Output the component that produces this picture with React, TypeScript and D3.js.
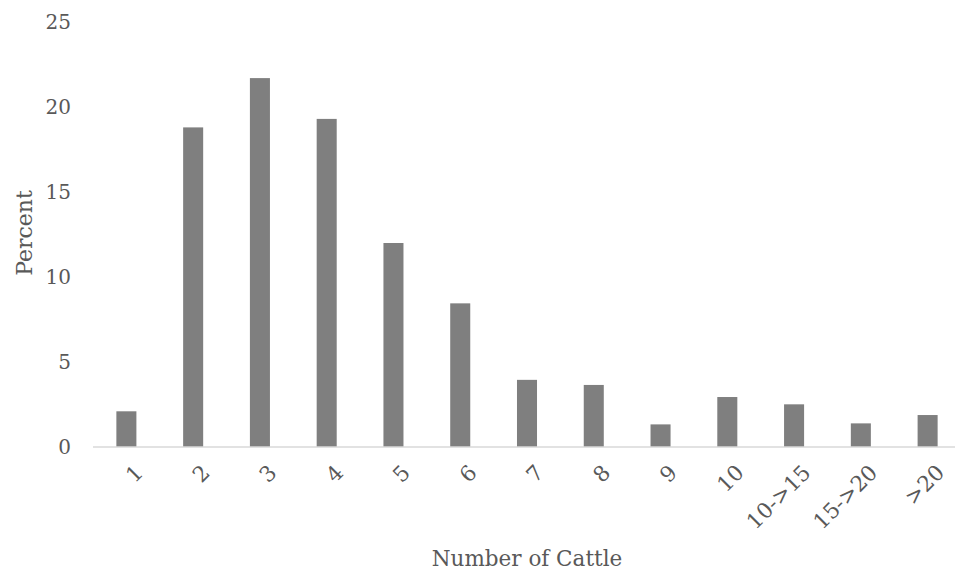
import React from "react";
import * as d3 from "d3";

const categories = ["1", "2", "3", "4", "5", "6", "7", "8", "9", "10", "10->15", "15->20", ">20"];
const values = [2.1, 18.8, 21.7, 19.3, 12.0, 8.45, 3.95, 3.65, 1.33, 2.94, 2.51, 1.39, 1.88];
const yTicks = [0, 5, 10, 15, 20, 25];

const W = 957;
const H = 571;
const M = { left: 93, right: 2, top: 22, bottom: 124 };
const FONT = "'DejaVu Serif', 'Liberation Serif', serif";

export default function App() {
  const x = d3.scaleBand().domain(categories).range([M.left, M.left + 868]).paddingInner(0.7).paddingOuter(0.35);
  const y = d3.scaleLinear().domain([0, 25]).range([H - M.bottom, M.top]);
  const base = y(0);
  return (
    <svg width={W} height={H} style={{ position: "absolute", left: 0, top: 0, background: "#fff" }}>
      {values.map((v, i) => (
        <rect key={i} x={x(categories[i])} y={y(v)} width={x.bandwidth()} height={base - y(v)} fill="#7f7f7f" />
      ))}
      <line x1={M.left} x2={W - M.right} y1={base} y2={base} stroke="#d9d9d9" strokeWidth={1.5} />
      {yTicks.map((t) => (
        <text key={t} x={71} y={y(t)} dy="0.35em" textAnchor="end" fontFamily={FONT} fontSize={20} fill="#595959">
          {t}
        </text>
      ))}
      {categories.map((c) => {
        const cx = (x(c) as number) + x.bandwidth() / 2 + 7;
        const cy = base + 16;
        return (
          <text key={c} transform={`translate(${cx},${cy}) rotate(-45)`} textAnchor="end" dy="0.72em" fontFamily={FONT} fontSize={21.5} fill="#595959">
            {c}
          </text>
        );
      })}
      <text transform={`translate(32,233) rotate(-90)`} textAnchor="middle" fontFamily={FONT} fontSize={22} fill="#595959">
        Percent
      </text>
      <text x={527} y={566} textAnchor="middle" fontFamily={FONT} fontSize={21.5} fill="#595959">
        Number of Cattle
      </text>
    </svg>
  );
}
